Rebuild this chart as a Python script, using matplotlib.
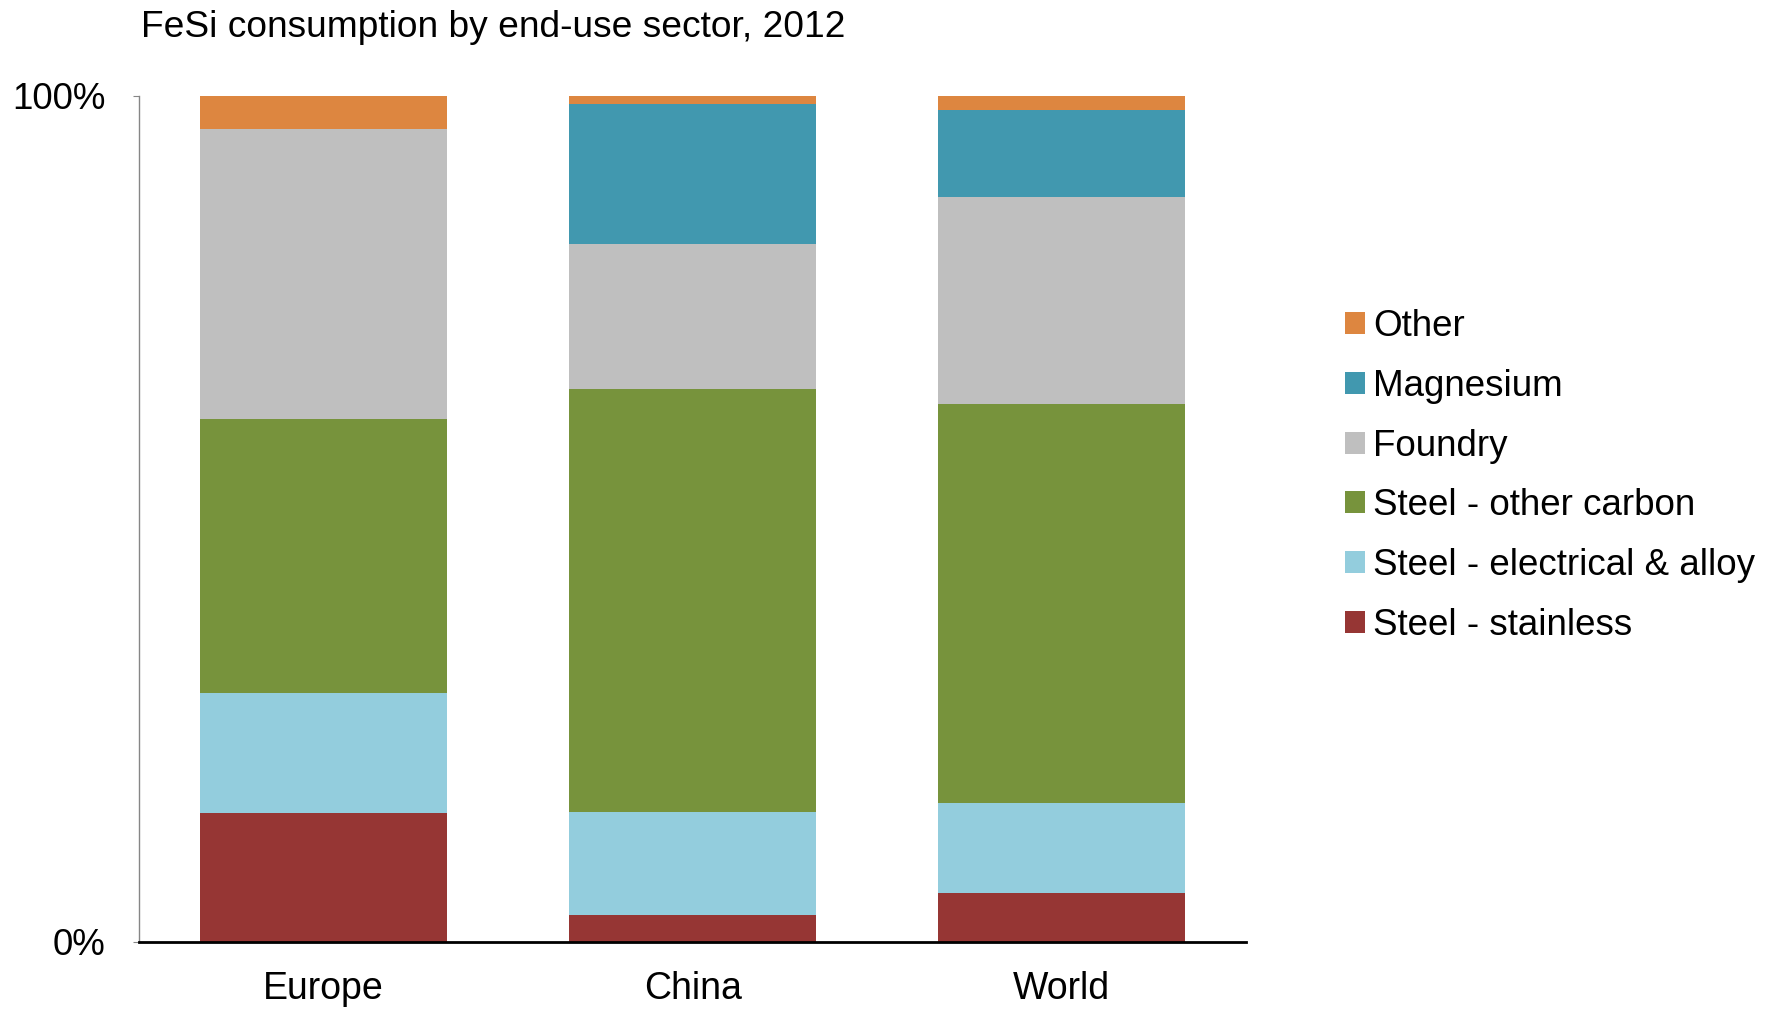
import matplotlib
matplotlib.use("Agg")
import matplotlib.pyplot as plt
import numpy as np

plt.rcParams['font.family'] = ['Liberation Sans', 'DejaVu Sans']

regions = ["Europe", "China", "World"]

# shares of FeSi consumption, in percent, bottom to top
steel_stainless = [15.2, 3.2, 5.7]
steel_electrical = [14.2, 12.1, 10.7]
steel_carbon = [32.4, 50.0, 47.2]
foundry = [34.3, 17.1, 24.4]
magnesium = [0.0, 16.6, 10.3]
other = [3.9, 1.0, 1.7]

sectors = [
	("Steel - stainless", steel_stainless, "#963634"),
	("Steel - electrical & alloy", steel_electrical, "#93CDDD"),
	("Steel - other carbon", steel_carbon, "#77933C"),
	("Foundry", foundry, "#BFBFBF"),
	("Magnesium", magnesium, "#4198AF"),
	("Other", other, "#DD8640"),
]

fig = plt.figure(figsize=(17.75, 10.1), dpi=100)
ax = fig.add_axes([0.0782, 0.0676, 0.624, 0.8378])

x = np.arange(len(regions))
bottom = np.zeros(len(regions))
handles = []
for name, values, color in sectors:
	vals = np.array(values) / 100.0
	bars = ax.bar(x, vals, width=0.668, bottom=bottom, color=color, label=name, linewidth=0)
	handles.append(bars)
	bottom += vals

ax.set_xlim(-0.5, 2.5)
ax.set_ylim(0, 1)
ax.set_yticks([0, 1])
ax.set_yticklabels(["0%", "100%"], fontsize=26.5)
ax.set_xticks(x)
ax.set_xticklabels(regions, fontsize=27)

ax.spines['top'].set_visible(False)
ax.spines['right'].set_visible(False)
ax.spines['left'].set_color("#868686")
ax.spines['left'].set_linewidth(1.0)
ax.spines['bottom'].set_color("black")
ax.spines['bottom'].set_linewidth(2.0)
ax.tick_params(axis='y', length=4, color="#868686", pad=20)
ax.tick_params(axis='x', length=0, pad=21)

fig.text(0.0795, 1 - 37 / 1010, "FeSi consumption by end-use sector, 2012", fontsize=26.7, va='baseline', ha='left')

fig.legend(handles[::-1], [s[0] for s in sectors][::-1], loc='center left',
	bbox_to_anchor=(1345 / 1775, 1 - 476 / 1010), frameon=False, fontsize=26.5,
	handlelength=0.55, handleheight=0.55, handletextpad=0.22, labelspacing=0.67,
	borderpad=0, borderaxespad=0)

fig.savefig("out.png", dpi=100)
